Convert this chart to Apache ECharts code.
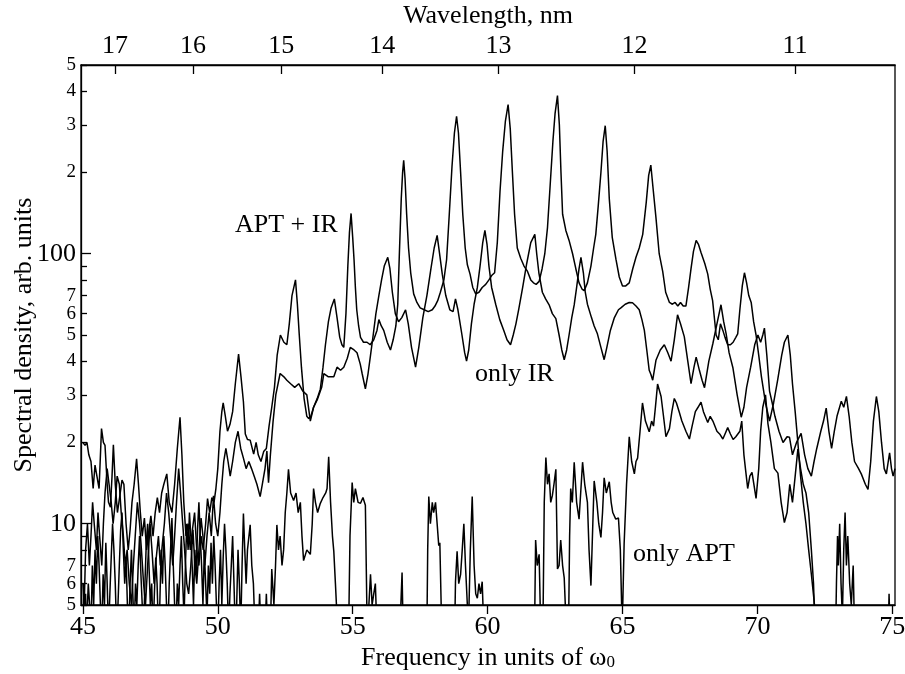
<!DOCTYPE html>
<html>
<head>
<meta charset="utf-8">
<script src="https://cdn.jsdelivr.net/npm/echarts@6.0.0/dist/echarts.min.js"></script>
<style>
html,body{margin:0;padding:0;background:#fff;}
#chart{width:905px;height:674px;}
</style>
</head>
<body>
<div id="chart"></div>
<script>
// ---- data (frequency in units of omega0, spectral density) ----
const aptIr = [
[45.00,20],[45.08,19.5],[45.15,20],[45.22,18],[45.30,17],[45.38,13.5],[45.45,16.5],[45.52,15],[45.60,13.5],[45.69,22.5],[45.76,20],[45.82,19.5],[45.90,14],[45.95,12],[46.02,11.5],[46.08,15],[46.13,19.6],[46.20,14],[46.28,11],[46.36,12.5],[46.45,14.5],[46.52,14],[46.60,10],[46.68,8],[46.75,9.5],[46.82,12],[46.90,14],[46.99,17.4],[47.06,14],[47.13,11],[47.20,9],[47.28,10.5],[47.36,8],[47.45,9.5],[47.52,10.7],[47.60,9],[47.68,11],[47.76,12.5],[47.84,11],[47.92,13],[48.00,14],[48.11,15.3],[48.20,12],[48.30,11],[48.40,14],[48.50,19],[48.60,24.8],[48.67,18],[48.74,12],[48.82,9],[48.90,10],[48.98,8],[49.06,9.5],[49.14,11],[49.22,8],[49.30,7],[49.38,9],[49.46,8],[49.55,10],[49.62,12.4],[49.70,11],[49.78,12.5],[49.86,12],[49.93,13.5],[50.00,16],[50.08,22],[50.15,26],[50.20,28],[50.28,25],[50.36,22],[50.45,23.3],[50.55,26],[50.65,33],[50.77,42.5],[50.86,35],[50.95,28.3],[51.02,21.5],[51.10,20.5],[51.20,20.4],[51.33,18.1],[51.42,20],[51.50,18],[51.60,17],[51.70,18.5],[51.80,19],[51.90,23],[52.00,27],[52.10,32],[52.20,42],[52.32,50],[52.45,47],[52.56,46],[52.65,55],[52.75,70],[52.88,80],[52.95,65],[53.02,50],[53.10,38],[53.20,29],[53.30,25],[53.37,24.5],[53.45,25],[53.55,27],[53.68,29],[53.80,31.5],[53.90,38],[53.99,46],[54.10,56],[54.20,63],[54.32,68],[54.42,58],[54.52,49],[54.60,46],[54.67,45],[54.75,60],[54.82,90],[54.88,120],[54.94,141],[55.00,115],[55.05,95],[55.10,75],[55.15,62],[55.22,54],[55.29,49],[55.40,47],[55.53,47],[55.65,46],[55.78,48],[55.90,52],[55.97,57],[56.06,54],[56.15,52],[56.28,47],[56.40,44],[56.50,48],[56.60,54],[56.67,65],[56.73,100],[56.80,160],[56.85,200],[56.89,222],[56.94,190],[57.00,140],[57.07,105],[57.15,85],[57.26,71],[57.38,66],[57.50,63],[57.65,62],[57.80,61],[57.95,62],[58.05,64],[58.15,67],[58.25,72],[58.38,80],[58.48,95],[58.58,140],[58.68,210],[58.77,280],[58.85,323],[58.92,280],[59.00,200],[59.08,140],[59.17,105],[59.25,91],[59.35,84],[59.45,75],[59.56,71],[59.68,72],[59.80,75],[59.93,77],[60.05,80],[60.15,83],[60.26,85],[60.36,110],[60.46,170],[60.56,240],[60.66,310],[60.76,357],[60.84,290],[60.92,200],[61.00,140],[61.10,105],[61.23,96],[61.35,90],[61.48,86],[61.60,80],[61.70,78],[61.80,77],[61.91,79],[62.02,88],[62.12,100],[62.22,125],[62.32,180],[62.42,260],[62.50,330],[62.59,385],[62.66,300],[62.72,200],[62.78,140],[62.90,122],[63.02,112],[63.15,100],[63.27,88],[63.39,78],[63.50,74],[63.58,73],[63.70,78],[63.83,90],[63.93,105],[64.01,118],[64.10,150],[64.20,200],[64.28,260],[64.36,298],[64.43,240],[64.51,160],[64.62,115],[64.76,95],[64.88,82],[65.00,76],[65.12,76],[65.25,78],[65.38,88],[65.50,97],[65.62,105],[65.75,118],[65.88,155],[65.97,195],[66.05,213],[66.12,180],[66.24,136],[66.36,100],[66.49,86],[66.60,72],[66.74,66],[66.85,65],[66.95,66],[67.05,64],[67.15,66],[67.25,64],[67.35,64],[67.45,75],[67.54,88],[67.63,102],[67.73,112],[67.82,108],[67.91,101],[68.05,92],[68.16,84],[68.25,74],[68.34,67],[68.42,56],[68.47,50],[68.55,48],[68.63,55],[68.72,52],[68.80,49],[68.90,46],[69.00,46],[69.10,47],[69.20,49],[69.27,50.5],[69.35,62],[69.44,76],[69.52,85],[69.60,78],[69.68,70],[69.77,66],[69.86,56],[69.95,50],[70.05,42],[70.15,35],[70.30,28],[70.45,24],[70.60,28],[70.75,34],[70.90,42],[71.00,47],[71.13,50],[71.22,42],[71.30,33],[71.40,26],[71.50,20],[71.60,15],[71.70,12],[71.80,10],[71.90,8],[72.00,6.5],[72.10,5.2],[72.20,4]
];

const onlyIr = [
[45.00,6],[45.05,5],[45.10,8],[45.17,10],[45.24,7],[45.30,9],[45.36,12],[45.42,10],[45.50,8],[45.56,11],[45.62,9],[45.70,7],[45.76,10],[45.82,13],[45.90,16],[45.97,14],[46.05,12],[46.12,10],[46.20,12],[46.27,15],[46.35,14],[46.42,11],[46.50,9],[46.57,7],[46.64,8],[46.72,6],[46.80,5],[46.87,7],[46.94,9],[47.02,12],[47.10,10],[47.17,8],[47.25,6],[47.32,5],[47.40,7],[47.49,10],[47.56,8],[47.64,6],[47.72,7.5],[47.80,9],[47.87,7],[47.95,8.5],[48.02,10],[48.10,13],[48.18,11],[48.25,9],[48.33,7],[48.40,9],[48.47,12],[48.55,16],[48.62,13],[48.70,10],[48.77,8],[48.85,6],[48.92,5.5],[49.00,7],[49.08,9.5],[49.15,7],[49.22,6],[49.30,8],[49.38,10.5],[49.45,9],[49.52,7],[49.60,9],[49.68,11],[49.76,9],[49.84,12.7],[49.92,10],[50.00,9],[50.08,11],[50.15,14],[50.22,17],[50.30,19],[50.38,17],[50.46,15],[50.55,17],[50.65,20],[50.75,22],[50.85,19],[50.95,17.5],[51.05,16],[51.15,17],[51.25,16],[51.35,15],[51.45,14],[51.57,12.6],[51.65,14],[51.75,16],[51.82,18.6],[51.88,14.2],[51.95,18],[52.05,24],[52.15,30],[52.31,36],[52.45,35],[52.56,34],[52.70,33],[52.85,32],[53.00,33],[53.15,31],[53.30,30],[53.43,24],[53.55,27],[53.70,29],[53.85,32],[53.93,36],[54.10,35],[54.30,35],[54.42,38],[54.55,37],[54.67,38],[54.80,41],[54.91,45],[55.05,44],[55.16,43],[55.28,39],[55.35,36],[55.47,31.6],[55.57,36],[55.66,42],[55.76,50],[55.86,60],[55.97,70],[56.07,80],[56.17,90],[56.30,97],[56.38,88],[56.47,72],[56.58,60],[56.70,56],[56.82,58],[56.96,62],[57.06,55],[57.18,45],[57.33,38],[57.45,45],[57.60,58],[57.75,70],[57.90,88],[58.02,105],[58.13,117],[58.22,100],[58.32,84],[58.45,70],[58.60,62],[58.72,61],[58.81,68],[58.90,62],[59.05,50],[59.15,43],[59.22,40],[59.30,44],[59.40,55],[59.50,65],[59.62,75],[59.72,90],[59.82,110],[59.90,122],[59.98,108],[60.05,90],[60.15,75],[60.30,65],[60.45,57],[60.60,52],[60.72,48],[60.85,46],[60.95,50],[61.05,55],[61.15,62],[61.30,75],[61.45,92],[61.60,110],[61.75,118],[61.82,100],[61.90,85],[62.03,72],[62.15,68],[62.28,64.7],[62.40,60],[62.53,57.5],[62.65,50],[62.75,44],[62.84,40.5],[62.93,44],[63.02,50],[63.12,58],[63.21,64.6],[63.30,75],[63.39,88],[63.46,97],[63.55,85],[63.62,72],[63.70,65],[63.85,58],[63.95,54],[64.07,50.5],[64.20,45],[64.32,40.5],[64.42,45],[64.55,52],[64.70,58],[64.85,62],[64.94,63],[65.10,65],[65.25,66],[65.37,65.8],[65.50,64],[65.62,62],[65.72,57],[65.81,52],[65.90,44],[65.99,37],[66.05,35.8],[66.12,34],[66.24,40.3],[66.40,44],[66.55,46],[66.68,43],[66.80,40],[66.92,48],[67.04,59.4],[67.15,55],[67.29,49.3],[67.42,40],[67.54,33],[67.65,38],[67.73,41.4],[67.85,37],[67.95,34],[68.04,31.9],[68.20,40],[68.35,46.5],[68.50,55],[68.65,64.7],[68.75,56],[68.84,50.6],[68.95,43],[69.09,37.9],[69.25,30],[69.40,24.8],[69.50,27],[69.60,32],[69.75,38],[69.90,46],[70.02,50],[70.12,47],[70.20,50],[70.26,53],[70.35,42],[70.45,31],[70.55,28],[70.65,25],[70.80,22],[70.95,20],[71.10,21],[71.19,20.9],[71.30,18],[71.45,20],[71.62,21.6],[71.75,18],[71.87,16],[72.00,15],[72.10,17],[72.20,19],[72.35,22],[72.45,24],[72.55,26.8],[72.65,22],[72.75,19],[72.85,22],[72.95,25],[73.11,28.4],[73.20,27],[73.30,29.6],[73.40,25],[73.50,20],[73.60,17],[73.75,16],[73.85,15.3],[74.00,14],[74.10,13.4],[74.20,17],[74.30,24],[74.41,29.6],[74.50,26],[74.60,20],[74.70,16],[74.78,15.3],[74.85,17],[74.90,18.3],[74.97,16],[75.03,15],[75.10,16]
];

const onlyApt = [
[45.00,4],[45.03,6],[45.06,4],[45.10,5.5],[45.13,4],[45.20,6],[45.25,5],[45.30,4],[45.35,7],[45.40,5],[45.45,8],[45.50,6],[45.55,9],[45.60,7],[45.65,5],[45.70,4],[45.75,6.5],[45.80,5],[45.85,8.5],[45.90,6],[45.95,4],[46.00,5.5],[46.05,7.5],[46.10,10],[46.15,8],[46.20,6],[46.25,4],[46.30,5],[46.35,7],[46.40,9.5],[46.45,11],[46.50,8],[46.55,6],[46.60,7.5],[46.65,5],[46.70,4],[46.75,6],[46.80,8],[46.85,5.5],[46.90,4],[46.95,6],[47.00,5],[47.05,7],[47.10,9],[47.15,6.5],[47.20,5],[47.25,4],[47.30,6],[47.35,8.5],[47.40,10],[47.45,7],[47.50,5],[47.55,6],[47.60,4],[47.65,5.5],[47.70,7.5],[47.75,6],[47.80,4],[47.85,5],[47.90,8],[47.95,6],[48.00,9],[48.05,7],[48.10,5],[48.15,4],[48.20,6],[48.25,8],[48.30,10.5],[48.35,7],[48.40,5],[48.45,4],[48.50,6],[48.55,5],[48.60,7],[48.65,9],[48.70,6],[48.75,4.5],[48.80,7],[48.85,10],[48.90,8],[48.95,11],[49.00,9],[49.05,7],[49.10,5],[49.15,8],[49.20,6.5],[49.25,9.5],[49.30,12],[49.35,9],[49.40,7],[49.45,5],[49.50,8],[49.55,6],[49.60,4.5],[49.65,7],[49.70,5.5],[49.75,8.5],[49.80,6],[49.85,9],[49.90,7],[49.95,5],[50.00,4],[50.05,6],[50.10,8],[50.15,5],[50.20,7.5],[50.25,10],[50.30,8],[50.35,6],[50.40,4],[50.45,5.5],[50.50,7],[50.55,9],[50.60,6],[50.65,4],[50.70,5],[50.75,8],[50.80,6],[50.85,4],[50.90,7],[50.95,10.9],[51.00,8],[51.05,6],[51.10,8],[51.20,9.9],[51.26,7],[51.32,6],[51.38,4],[51.50,4],[51.55,5.5],[51.60,4],[51.75,4],[51.80,5.5],[51.85,4],[51.95,4],[52.00,6.8],[52.08,5],[52.14,7],[52.19,9.9],[52.25,8],[52.31,9],[52.38,7],[52.44,8],[52.50,11],[52.56,13],[52.62,15.9],[52.70,13],[52.81,12.2],[52.90,13],[52.98,11],[53.06,12],[53.12,9],[53.18,7.3],[53.30,8],[53.43,7.7],[53.50,10],[53.55,13.5],[53.62,12],[53.70,11],[53.80,11.9],[53.90,12.5],[54.00,13],[54.05,13.5],[54.11,17.7],[54.18,12],[54.25,9],[54.30,7.9],[54.36,6],[54.42,4.5],[54.50,4],[54.85,4],[54.90,9],[54.98,14.2],[55.04,12],[55.10,13.5],[55.20,12],[55.29,11.9],[55.38,12.5],[55.47,11.7],[55.53,4.5],[55.60,5],[55.66,6.5],[55.72,5],[55.78,5.5],[55.84,6],[55.90,4],[56.75,4],[56.80,5.5],[56.83,6.6],[56.87,4],[57.75,4],[57.78,8],[57.82,12.6],[57.88,10],[57.95,12],[58.00,11],[58.07,12],[58.13,10],[58.19,8.3],[58.23,8.5],[58.30,4],[58.78,4],[58.81,6.1],[58.87,7.9],[58.93,6],[59.00,6.5],[59.06,8],[59.12,10],[59.18,7],[59.25,5],[59.30,4.5],[59.36,8],[59.43,12.6],[59.50,7],[59.56,5.5],[59.62,5.3],[59.68,6],[59.74,5.5],[59.80,6.1],[59.86,4],[61.74,4],[61.78,8.7],[61.84,7],[61.91,7.7],[61.97,4],[62.05,4],[62.10,12],[62.16,17.6],[62.22,14],[62.28,15.3],[62.34,12],[62.40,12.7],[62.46,14],[62.53,15.9],[62.59,6.8],[62.65,7],[62.71,8.7],[62.78,7],[62.84,6.3],[62.92,4],[63.00,4],[63.04,9],[63.08,13.5],[63.14,12],[63.21,16.9],[63.30,12],[63.39,10.4],[63.45,13],[63.52,16.9],[63.60,14],[63.70,12],[63.76,8],[63.83,5.9],[63.90,10],[63.95,14.4],[64.05,12],[64.12,10],[64.20,8.9],[64.26,11],[64.32,14.8],[64.40,13],[64.51,14.3],[64.58,12],[64.64,11],[64.75,10.4],[64.85,10.5],[64.92,8],[64.97,4.9],[65.00,4.5],[65.06,8.4],[65.15,14],[65.25,21],[65.34,17],[65.44,15.3],[65.50,17],[65.56,17.5],[65.65,22],[65.74,28],[65.85,24],[65.99,21.9],[66.08,24],[66.15,23],[66.22,27],[66.30,32.9],[66.43,29.6],[66.52,25],[66.61,21],[66.74,22.5],[66.83,26],[66.92,29.1],[67.00,28],[67.10,26],[67.20,24],[67.35,22],[67.48,20.6],[67.58,23],[67.70,26],[67.80,27],[67.91,28.2],[68.00,26],[68.16,23.7],[68.25,25],[68.35,24],[68.50,22],[68.60,21.5],[68.72,20.6],[68.80,21.5],[68.90,22.7],[69.00,21.5],[69.10,20.5],[69.20,21],[69.27,20.9],[69.35,22],[69.42,24],[69.50,18],[69.56,15.9],[69.64,13.5],[69.72,15],[69.80,15.5],[69.87,14],[69.95,12.4],[70.05,16],[70.12,22],[70.20,27],[70.30,30],[70.39,23.5],[70.50,20],[70.63,16],[70.76,15.4],[70.88,12],[71.00,10.1],[71.10,11],[71.20,14],[71.30,12],[71.40,15],[71.50,18.9],[71.60,16],[71.70,14],[71.80,13],[71.90,11],[72.00,8],[72.08,6],[72.12,4.5],[72.16,4],[72.90,4],[72.93,6],[72.97,9],[73.00,7],[73.05,10],[73.10,6],[73.15,4.5],[73.20,8],[73.25,11],[73.30,7],[73.35,9],[73.42,6],[73.48,5],[73.55,7],[73.60,4],[74.85,4],[74.88,5.5],[74.92,4],[75.10,4]
];

// ---- axis ticks / labels ----
const freqTicks = [45, 50, 55, 60, 65, 70, 75];
const wavelengthTicks = [17, 16, 15, 14, 13, 12, 11];   // nm
const lambdaTimesOmega = 785.3;                          // nm * (omega / omega0)
const yMajorTicks = [10, 100];
const yMinorTicks = [5, 6, 7, 8, 9, 20, 30, 40, 50, 60, 70, 80, 90, 200, 300, 400, 500];
const yMinorLabels = [5, 6, 7, 20, 30, 40, 50, 60, 70, 200, 300, 400, 500];
const curveLabels = [
  {text: 'APT + IR', left: 235, top: 212},
  {text: 'only IR', left: 475, top: 361},
  {text: 'only APT', left: 633, top: 541}
];

const FONT = '"Liberation Serif", "Times New Roman", serif';
const topTickFreqs = wavelengthTicks.map(l => lambdaTimesOmega / l);

const chart = echarts.init(document.getElementById('chart'), null, {renderer: 'canvas'});

const lineSeries = (name, data) => ({
  name, type: 'line', data, showSymbol: false, symbol: 'none',
  xAxisIndex: 0, yAxisIndex: 0, clip: true, animation: false,
  lineStyle: {color: '#000', width: 1.5}
});

chart.setOption({
  animation: false,
  backgroundColor: '#fff',
  grid: {left: 81, top: 65, width: 814, height: 540, show: true,
         borderColor: '#000', borderWidth: 1.3, backgroundColor: 'transparent',
         containLabel: false, outerBoundsMode: 'none'},
  xAxis: [
    {type: 'value', position: 'bottom', min: 44.93, max: 75.1,
     axisLine: {show: true, lineStyle: {color: '#000', width: 1.3}},
     axisTick: {show: true, inside: false, length: 9, customValues: freqTicks,
                lineStyle: {color: '#000', width: 1.3}},
     axisLabel: {show: true, customValues: freqTicks, margin: 9, color: '#000',
                 fontFamily: FONT, fontSize: 26},
     splitLine: {show: false},
     name: 'Frequency in units of ω{sub|0}', nameLocation: 'middle', nameGap: 40,
     nameMoveOverlap: false,
     nameTextStyle: {color: '#000', fontFamily: FONT, fontSize: 26,
       rich: {sub: {fontFamily: FONT, fontSize: 17, color: '#000', verticalAlign: 'bottom', lineHeight: 20}}}
    },
    {type: 'value', position: 'top', min: 44.93, max: 75.1,
     axisLine: {show: true, lineStyle: {color: '#000', width: 1.3}},
     axisTick: {show: true, inside: true, length: 9, customValues: topTickFreqs,
                lineStyle: {color: '#000', width: 1.3}},
     axisLabel: {show: true, customValues: topTickFreqs, margin: 6, color: '#000',
                 fontFamily: FONT, fontSize: 26,
                 formatter: v => String(Math.round(lambdaTimesOmega / v))},
     splitLine: {show: false},
     name: 'Wavelength, nm', nameLocation: 'middle', nameGap: 36,
     nameMoveOverlap: false,
     nameTextStyle: {color: '#000', fontFamily: FONT, fontSize: 26}
    }
  ],
  yAxis: [
    {type: 'log', logBase: 10, min: 5, max: 500, position: 'left',
     axisLine: {show: true, lineStyle: {color: '#000', width: 1.3}},
     axisTick: {show: true, inside: true, length: 10, customValues: yMajorTicks,
                lineStyle: {color: '#000', width: 1.3}},
     axisLabel: {show: true, customValues: yMajorTicks, margin: 5, color: '#000',
                 fontFamily: FONT, fontSize: 26},
     splitLine: {show: false}, minorTick: {show: false},
     name: 'Spectral density, arb. units', nameLocation: 'middle', nameGap: 44,
     nameMoveOverlap: false,
     nameTextStyle: {color: '#000', fontFamily: FONT, fontSize: 26}
    },
    {type: 'log', logBase: 10, min: 5, max: 500, position: 'left',
     axisLine: {show: false},
     axisTick: {show: true, inside: true, length: 6, customValues: yMinorTicks,
                lineStyle: {color: '#000', width: 1.3}},
     axisLabel: {show: true, customValues: yMinorLabels, margin: 5, color: '#000',
                 fontFamily: FONT, fontSize: 19,
                 formatter: v => String(Math.round(v / Math.pow(10, Math.floor(Math.log10(v) + 1e-9))))},
     splitLine: {show: false}, minorTick: {show: false}
    }
  ],
  graphic: curveLabels.map(c => ({
    type: 'text', left: c.left, top: c.top, silent: true,
    style: {text: c.text, fill: '#000', font: '26px ' + FONT}
  })),
  series: [
    lineSeries('APT + IR', aptIr),
    lineSeries('only IR', onlyIr),
    lineSeries('only APT', onlyApt)
  ]
});
</script>
</body>
</html>
